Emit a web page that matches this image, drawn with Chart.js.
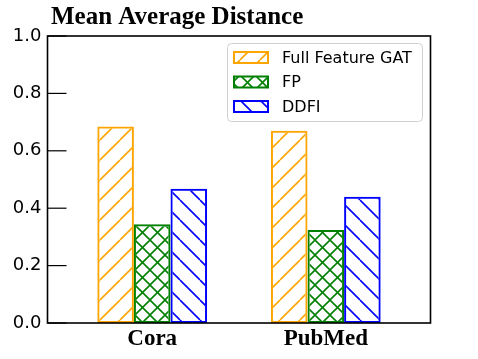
<!DOCTYPE html>
<html>
<head>
<meta charset="utf-8">
<script src="https://cdn.jsdelivr.net/npm/chart.js@4.4.1/dist/chart.umd.min.js"></script>
<style>
html, body { margin: 0; padding: 0; background: #fff; }
</style>
</head>
<body>
<canvas id="grafico" width="478" height="359"></canvas>
<script>
const categorias = ['Cora', 'PubMed'];
const fullFeatureGAT = [0.685, 0.670];
const fp = [0.344, 0.324];
const ddfi = [0.468, 0.440];
const yTicks = [0.0, 0.2, 0.4, 0.6, 0.8, 1.0];

// hatch fill like matplotlib ('/', '\\', 'x')
function hatch(color, kind, s) {
  const c = document.createElement('canvas');
  c.width = s; c.height = s;
  const g = c.getContext('2d');
  g.strokeStyle = color;
  g.lineWidth = 1.6;
  for (let k = -1; k <= 1; k++) {
    if (kind === '/' || kind === 'x') {
      g.beginPath(); g.moveTo(k * s, s); g.lineTo(k * s + s, 0); g.stroke();
    }
    if (kind === '\\' || kind === 'x') {
      g.beginPath(); g.moveTo(k * s, 0); g.lineTo(k * s + s, s); g.stroke();
    }
  }
  return g.createPattern(c, 'repeat');
}

function serie(label, values, color, kind, s) {
  return {
    label: label,
    data: values.map((v, i) => ({ x: i, y: v })),
    backgroundColor: hatch(color, kind, s),
    borderColor: color,
    borderWidth: 2,
    borderSkipped: false,
    categoryPercentage: 0.632,
    barPercentage: 1
  };
}

const marco = {
  id: 'marco',
  afterDatasetsDraw(chart) {
    const ctx = chart.ctx;
    const a = chart.chartArea;
    const y = chart.scales.y;
    ctx.save();
    ctx.strokeStyle = '#000';
    ctx.lineWidth = 1.2;
    y.ticks.forEach(t => {
      const py = y.getPixelForValue(t.value);
      ctx.beginPath(); ctx.moveTo(a.left, py); ctx.lineTo(a.left + 19, py); ctx.stroke();
    });
    ctx.lineWidth = 1.6;
    ctx.strokeRect(a.left, a.top, a.right - a.left, a.bottom - a.top);

    // title
    ctx.fillStyle = '#000';
    ctx.font = 'bold 25px "Liberation Serif"';
    ctx.textBaseline = 'alphabetic';
    ctx.textAlign = 'left';
    ctx.fillText('Mean Average Distance', 51, 24);

    // legend
    const lx = 227.5, ly = 43.5, lw = 195, lh = 78;
    ctx.beginPath();
    ctx.roundRect(lx, ly, lw, lh, 4);
    ctx.fillStyle = 'rgba(255,255,255,0.8)';
    ctx.fill();
    ctx.strokeStyle = '#d0d0d0';
    ctx.lineWidth = 1;
    ctx.stroke();
    ctx.font = '16px "DejaVu Sans"';
    ctx.textBaseline = 'middle';
    chart.data.datasets.forEach((ds, i) => {
      const cy = 57.5 + i * 24.5;
      ctx.fillStyle = ds.backgroundColor;
      ctx.fillRect(234, cy - 5.5, 34, 11);
      ctx.strokeStyle = ds.borderColor;
      ctx.lineWidth = 2;
      ctx.strokeRect(234, cy - 5.5, 34, 11);
      ctx.fillStyle = '#000';
      ctx.fillText(ds.label, 282, cy + 1);
    });
    ctx.restore();
  }
};

new Chart(document.getElementById('grafico').getContext('2d'), {
  type: 'bar',
  data: {
    datasets: [
      serie('Full Feature GAT', fullFeatureGAT, '#FFA500', '/', 20),
      serie('FP', fp, '#008000', 'x', 15),
      serie('DDFI', ddfi, '#0000FF', '\\', 20)
    ]
  },
  options: {
    responsive: false,
    animation: false,
    devicePixelRatio: 1,
    layout: { padding: { top: 36, right: 47.5, bottom: 0, left: 0 } },
    plugins: {
      legend: { display: false },
      tooltip: { enabled: false },
      title: { display: false }
    },
    scales: {
      x: {
        type: 'linear',
        min: -0.603,
        max: 1.603,
        offset: false,
        grid: { display: false, drawTicks: false },
        border: { display: false },
        afterBuildTicks: s => { s.ticks = categorias.map((_, i) => ({ value: i })); },
        afterFit: s => { s.height = 36; },
        ticks: {
          callback: v => categorias[v],
          font: { family: 'Liberation Serif', weight: 'bold', size: 23 },
          color: '#000',
          padding: 2,
          autoSkip: false,
          maxRotation: 0
        }
      },
      y: {
        min: 0,
        max: 1,
        grid: { display: false, drawTicks: false },
        border: { display: false },
        afterBuildTicks: s => { s.ticks = yTicks.map(v => ({ value: v })); },
        afterFit: s => { s.width = 47.5; },
        ticks: {
          callback: v => v.toFixed(1),
          font: { family: 'DejaVu Sans', size: 18 },
          color: '#000',
          padding: 6
        }
      }
    }
  },
  plugins: [marco]
});
</script>
</body>
</html>
